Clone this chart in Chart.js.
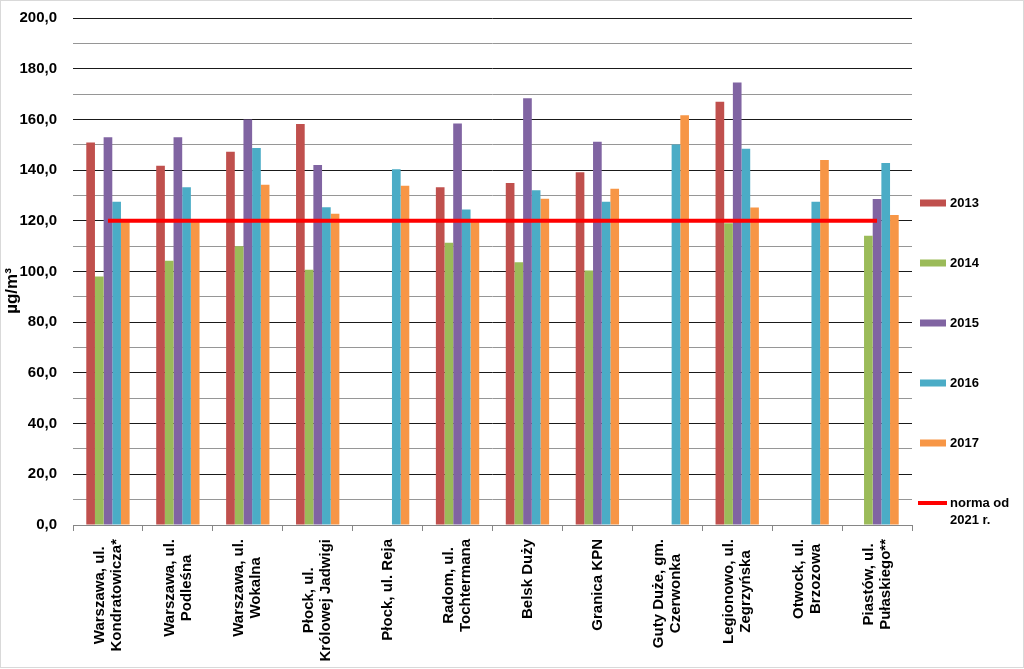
<!DOCTYPE html>
<html lang="pl">
<head>
    <meta charset="UTF-8">
    <title>Stężenia - stacje</title>
    <script src="https://cdn.jsdelivr.net/npm/chart.js"></script>
    <style>
        body { margin: 0; background: #fff; }
        #wrap { width: 1024px; height: 669px; }
    </style>
</head>
<body>
<div id="wrap"><canvas id="chart" width="1024" height="669"></canvas></div>
<script>
    const stations = [
        ['Warszawa, ul.', 'Kondratowicza*'],
        ['Warszawa, ul.', 'Podleśna'],
        ['Warszawa, ul.', 'Wokalna'],
        ['Płock, ul.', 'Królowej Jadwigi'],
        ['Płock, ul. Reja'],
        ['Radom, ul.', 'Tochtermana'],
        ['Belsk Duży'],
        ['Granica KPN'],
        ['Guty Duże, gm.', 'Czerwonka'],
        ['Legionowo, ul.', 'Zegrzyńska'],
        ['Otwock, ul.', 'Brzozowa'],
        ['Piastów, ul.', 'Pułaskiego**']
    ];
    const y2013 = [150.9, 141.7, 147.2, 158.2, null, 133.2, 134.9, 139.2, null, 167.0, null, null];
    const y2014 = [98.0, 104.2, 110.0, 100.7, null, 111.3, 103.6, 100.4, null, 119.0, null, 114.1];
    const y2015 = [153.0, 153.0, 160.0, 142.0, null, 158.4, 168.3, 151.2, null, 174.6, null, 128.6];
    const y2016 = [127.5, 133.2, 148.7, 125.3, 140.3, 124.5, 132.1, 127.5, 150.1, 148.4, 127.5, 142.8];
    const y2017 = [119.8, 119.8, 134.2, 122.8, 133.8, 119.8, 128.7, 132.6, 161.6, 125.2, 144.0, 122.3];
    const norma = [120, 120, 120, 120, 120, 120, 120, 120, 120, 120, 120, 120];
    const seriesNames = ['2013', '2014', '2015', '2016', '2017'];
    const normaLabel = ['norma od', '2021 r.'];
    const unit = 'µg/m³';

    const colors = ['#c0504d', '#9bbb59', '#8064a2', '#4bacc6', '#f79646'];
    const bold = 'bold 15px "Liberation Sans", Arial, sans-serif';

    function barSet(i, data) {
        return {
            type: 'bar',
            label: seriesNames[i],
            data: data,
            backgroundColor: colors[i],
            borderWidth: 0,
            barPercentage: 1.0,
            categoryPercentage: 0.62,
            order: 1
        };
    }

    // legend, category labels, unit and frame
    const extras = {
        id: 'extras',
        afterDraw(chart) {
            const ctx = chart.ctx;
            const xs = chart.scales.x;
            ctx.save();
            ctx.fillStyle = '#000';

            // category labels, rotated, lines centred on each other
            ctx.font = bold;
            ctx.textAlign = 'center';
            ctx.textBaseline = 'middle';
            stations.forEach((lines, i) => {
                const cx = xs.getPixelForValue(i);
                const maxW = Math.max(...lines.map(l => ctx.measureText(l).width));
                lines.forEach((l, j) => {
                    ctx.save();
                    ctx.translate(cx + (j - (lines.length - 1) / 2) * 17, 539 + maxW / 2);
                    ctx.rotate(-Math.PI / 2);
                    ctx.fillText(l, 0, 0);
                    ctx.restore();
                });
            });

            // unit
            ctx.font = 'bold 17px "Liberation Sans", Arial, sans-serif';
            ctx.save();
            ctx.translate(12, 291);
            ctx.rotate(-Math.PI / 2);
            ctx.fillText(unit, 0, 0);
            ctx.restore();

            // legend
            ctx.font = 'bold 13px "Liberation Sans", Arial, sans-serif';
            ctx.textAlign = 'left';
            seriesNames.forEach((name, i) => {
                const y = 203 + i * 60;
                ctx.fillStyle = colors[i];
                ctx.fillRect(920, y - 3.5, 26, 7);
                ctx.fillStyle = '#000';
                ctx.fillText(name, 950, y);
            });
            ctx.strokeStyle = '#ff0000';
            ctx.lineWidth = 4;
            ctx.beginPath();
            ctx.moveTo(918, 503);
            ctx.lineTo(947, 503);
            ctx.stroke();
            ctx.fillText(normaLabel[0], 950, 503);
            ctx.fillText(normaLabel[1], 950, 520);

            // frame
            ctx.strokeStyle = '#d9d9d9';
            ctx.lineWidth = 1;
            ctx.strokeRect(0.5, 0.5, 1023, 667);
            ctx.restore();
        }
    };

    new Chart(document.getElementById('chart'), {
        data: {
            labels: stations,
            datasets: [
                barSet(0, y2013),
                barSet(1, y2014),
                barSet(2, y2015),
                barSet(3, y2016),
                barSet(4, y2017),
                {
                    type: 'line',
                    label: 'norma od 2021 r.',
                    data: norma,
                    borderColor: '#ff0000',
                    borderWidth: 4,
                    pointRadius: 0,
                    fill: false,
                    order: 0
                }
            ]
        },
        options: {
            responsive: false,
            animation: false,
            layout: { padding: { left: 0, right: 112, top: 18, bottom: 0 } },
            plugins: {
                legend: { display: false },
                tooltip: { enabled: false }
            },
            scales: {
                x: {
                    offset: true,
                    grid: {
                        offset: true,
                        drawOnChartArea: false,
                        drawTicks: true,
                        tickLength: 6,
                        color: '#868686'
                    },
                    border: { color: '#868686' },
                    ticks: { display: false },
                    afterFit(scale) { scale.height = 144; }
                },
                y: {
                    min: 0,
                    max: 200,
                    ticks: {
                        stepSize: 10,
                        autoSkip: false,
                        padding: 16,
                        color: '#000',
                        font: { family: '"Liberation Sans", Arial, sans-serif', size: 15, weight: 'bold' },
                        callback: v => (v % 20 === 0 ? v.toFixed(1).replace('.', ',') : '')
                    },
                    grid: {
                        drawTicks: false,
                        color: c => (c.tick && c.tick.value % 20 === 0 ? '#1a1a1a' : '#969696')
                    },
                    border: { display: false },
                    afterFit(scale) {
                        scale.width = 73;
                        scale.paddingTop = 0;
                        scale.paddingBottom = 0;
                    }
                }
            }
        },
        plugins: [extras]
    });
</script>
</body>
</html>
